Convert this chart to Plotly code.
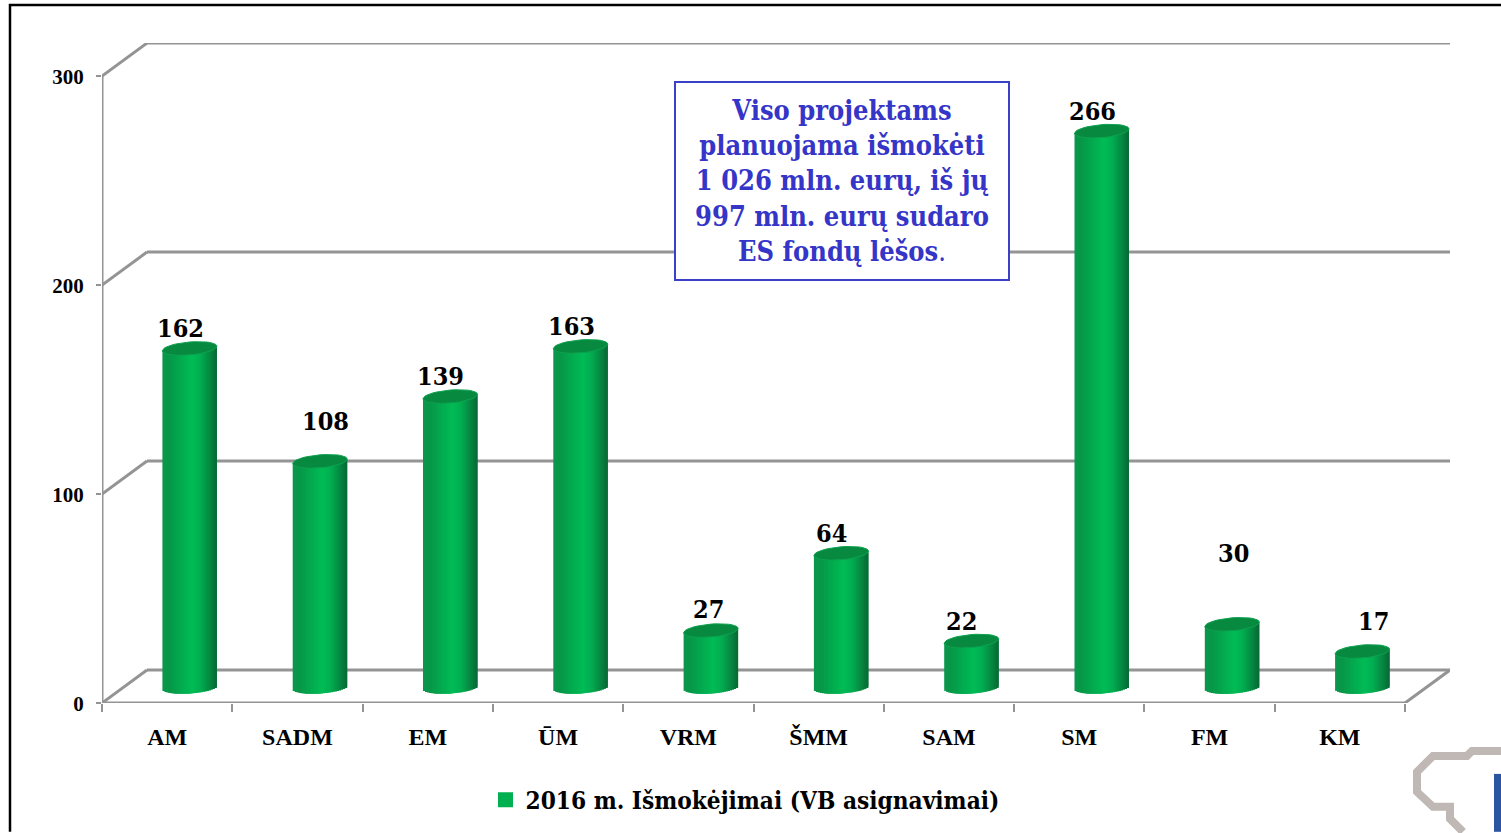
import math
import plotly.graph_objects as go

categories = ["AM", "SADM", "EM", "ŪM", "VRM", "ŠMM", "SAM", "SM", "FM", "KM"]
values = [162, 108, 139, 163, 27, 64, 22, 266, 30, 17]
y_ticks = [0, 100, 200, 300]
series_name = "2016 m. Išmokėjimai (VB asignavimai)"
box_text = ("<b>Viso projektams<br>planuojama išmokėti<br>1 026 mln. eurų, iš jų<br>"
            "997 mln. eurų sudaro<br>ES fondų lėšos</b>.")

# label nudges in pixels (layout, not data)
label_dx = [-9, 6, -10, -9, -2, -10, -10, -9, 1, 11]
label_dy = [20, 40, 20, 20, 21, 20, 20, 20, 71, 30]

W, H = 1501, 833
L, R, T, B = 102, 1450, 43, 704      # plot area in page pixels
CAT_PX = 130.3
VAL_PX = 2.093
DEPTH_X = 45 / CAT_PX
DEPTH_Y = 33 / VAL_PX
MID_X = 22.5 / CAT_PX
MID_Y = 16 / VAL_PX
BAR_W = 54.5 / CAT_PX
ELL_H = 6.5 / VAL_PX
TILT = 2.2 / VAL_PX
GRID = "#949494"
FONT_B = "DejaVu Serif Condensed, DejaVu Serif, serif"
FONT_T = "Liberation Serif, serif"
X0 = -0.5
X1 = X0 + len(categories)

stops = [(-1.0, (12, 150, 76)), (-0.72, (6, 152, 72)), (-0.25, (2, 174, 80)),
         (0.1, (0, 188, 86)), (0.4, (2, 172, 80)), (0.75, (6, 134, 64)), (1.0, (8, 104, 52))]


def shade(u):
    for (a, ca), (b, cb) in zip(stops, stops[1:]):
        if a <= u <= b:
            t = (u - a) / (b - a)
            return "rgb(%d,%d,%d)" % tuple(round(p + (q - p) * t) for p, q in zip(ca, cb))
    return "rgb(0,176,80)"


fig = go.Figure()

n = 27
strip = BAR_W / n
for i in range(n):
    u = (i + 0.5) / n * 2 - 1
    arc = ELL_H * math.sqrt(max(0, 1 - u * u))
    base = [MID_Y + TILT * u - arc for _ in values]
    tops = [v + MID_Y + TILT * u for v in values]
    # each strip slightly overlaps the next one so that no seam shows
    wid = strip * (2 if i < n - 1 else 1)
    fig.add_trace(go.Bar(
        x=list(range(len(values))), y=[t - b for t, b in zip(tops, base)], base=base,
        width=wid, offset=MID_X - BAR_W / 2 + i * strip,
        marker=dict(color=shade(u), opacity=1, line=dict(width=0)),
        showlegend=False, hoverinfo="skip"))

# cylinder tops
ex, ey = [], []
for k, v in enumerate(values):
    for d in range(0, 361, 10):
        a = math.radians(d)
        ex.append(k + MID_X + BAR_W / 2 * math.cos(a))
        ey.append(v + MID_Y + TILT * math.cos(a) + ELL_H * math.sin(a))
    ex.append(None)
    ey.append(None)
fig.add_trace(go.Scatter(x=ex, y=ey, mode="lines", fill="toself", fillcolor="#07893F",
                         line=dict(color="#0DA24F", width=1), cliponaxis=False,
                         showlegend=False, hoverinfo="skip"))

# legend item
fig.add_trace(go.Scatter(x=[None], y=[None], mode="markers", name=series_name,
                         marker=dict(symbol="square", size=15, color="#00B050")))

shapes = []


def seg(x0, y0, x1, y1, width=3):
    shapes.append(dict(type="line", xref="x", yref="y", x0=x0, y0=y0, x1=x1, y1=y1,
                       layer="below", line=dict(color=GRID, width=width)))


for t in y_ticks:
    seg(X0 + DEPTH_X, t + DEPTH_Y, X1 + DEPTH_X, t + DEPTH_Y)
    seg(X0, t, X0 + DEPTH_X, t + DEPTH_Y)
seg(X0, 0, X0, y_ticks[-1])
seg(X0, 0, X1, 0)
seg(X1, 0, X1 + DEPTH_X, DEPTH_Y)


def paper_path(points):
    return "M" + " L".join(f"{(x - L) / (R - L):.5f},{(B - y) / (B - T):.5f}" for x, y in points)


# page frame and corner logo
for pts, col, wd in [
    ([(10, 833), (10, 5), (1501, 5)], "#000000", 2.5),
    ([(1501, 752), (1472, 752), (1467, 757), (1433, 757), (1417, 773), (1417, 793),
      (1433, 808), (1450, 808), (1450, 820), (1463, 833)], "#BFB8B4", 8),
]:
    shapes.append(dict(type="path", xref="paper", yref="paper", path=paper_path(pts),
                       layer="below", line=dict(color=col, width=wd)))
shapes.append(dict(type="rect", xref="paper", yref="paper",
                   x0=(1494 - L) / (R - L), x1=(1501 - L) / (R - L),
                   y0=(B - 833) / (B - T), y1=(B - 775) / (B - T),
                   layer="below", fillcolor="#2A55A0", line=dict(width=0)))

ann = []
for k, v in enumerate(values):
    ann.append(dict(x=k + MID_X, y=v + MID_Y, xref="x", yref="y", text=f"<b>{v}</b>",
                    showarrow=False, xshift=label_dx[k], yshift=label_dy[k],
                    font=dict(family=FONT_B, size=25, color="#000000")))
ann.append(dict(xref="paper", yref="paper", x=(841.5 - L) / (R - L), y=(B - 181) / (B - T),
                xanchor="center", yanchor="middle",
                text=box_text, showarrow=False, width=330, height=194, align="center",
                valign="middle", bgcolor="#FFFFFF", bordercolor="#3B40C8", borderwidth=2,
                font=dict(family=FONT_B, size=27, color="#3535C8")))

fig.update_layout(
    width=W, height=H, margin=dict(l=L, r=W - R, t=T, b=H - B, pad=0),
    paper_bgcolor="#FFFFFF", plot_bgcolor="rgba(0,0,0,0)", barmode="overlay",
    shapes=shapes, annotations=ann, showlegend=True,
    legend=dict(orientation="h", xref="paper", yref="paper",
                x=(745 - L) / (R - L), y=(B - 800) / (B - T), xanchor="center", yanchor="middle",
                font=dict(family=FONT_B, size=24.2, color="#000000", weight="bold"),
                bgcolor="rgba(0,0,0,0)"),
    xaxis=dict(range=[X0, X1 + DEPTH_X], tickmode="array", tickvals=list(range(len(categories))),
               ticktext=[f"<b>{c}</b>" for c in categories], ticks="", showgrid=False,
               zeroline=False, showline=False, ticklabelstandoff=17,
               tickfont=dict(family=FONT_T, size=24, color="#000000"),
               minor=dict(tickmode="array", tickvals=[X0 + i for i in range(len(categories) + 1)],
                          ticks="outside", ticklen=8, tickwidth=2, tickcolor=GRID, showgrid=False)),
    yaxis=dict(range=[0, (B - T) / VAL_PX], tickmode="array", tickvals=y_ticks,
               ticktext=[f"<b>{t}</b>" for t in y_ticks], ticks="outside", ticklen=5,
               tickwidth=2, tickcolor=GRID, showgrid=False, zeroline=False, showline=False,
               ticklabelstandoff=8, ticklabelshift=1,
               tickfont=dict(family=FONT_T, size=21, color="#000000")),
)

fig.write_html("out.html", config=dict(displayModeBar=False),
               post_script="document.body.style.margin='0';document.body.style.overflow='hidden';")
